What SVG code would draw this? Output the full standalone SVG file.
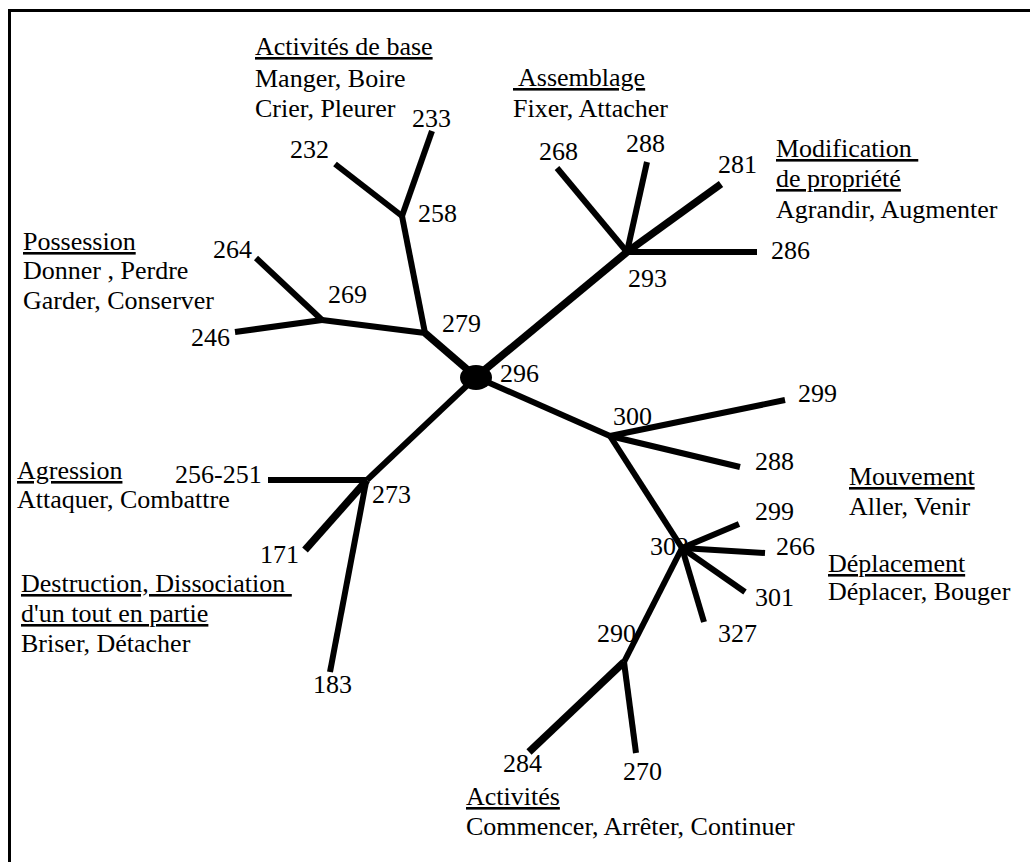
<svg xmlns="http://www.w3.org/2000/svg" width="1030" height="862" viewBox="0 0 1030 862">
<style>
text{font-size:26px;fill:#000}
.u{text-decoration:underline}
.e{stroke:#000;stroke-width:6;fill:none;stroke-linecap:butt}
.t{stroke-width:7.5}
</style>
<rect width="1030" height="862" fill="#fff"/>
<path d="M9.5,862 V10.5 H1030" fill="none" stroke="#000" stroke-width="3"/>
<g id="connectors">
<line class="e" x1="432" y1="131" x2="402" y2="216"/>
<line class="e" x1="335" y1="164" x2="402" y2="216"/>
<line class="e" x1="402" y1="216" x2="425" y2="333"/>
<line class="e" x1="256" y1="258" x2="322" y2="320"/>
<line class="e" x1="235" y1="332" x2="322" y2="320"/>
<line class="e" x1="322" y1="320" x2="425" y2="333"/>
<line class="e t" x1="425" y1="333" x2="476" y2="377"/>
<line class="e" x1="557" y1="168" x2="627" y2="252"/>
<line class="e" x1="647" y1="162" x2="627" y2="252"/>
<line class="e t" x1="721" y1="184" x2="627" y2="252"/>
<line class="e" x1="627" y1="252" x2="757" y2="252"/>
<line class="e t" x1="627" y1="252" x2="476" y2="377"/>
<line class="e" x1="476" y1="377" x2="367" y2="480"/>
<line class="e" x1="268" y1="480" x2="367" y2="480"/>
<line class="e t" x1="367" y1="480" x2="305" y2="550"/>
<line class="e" x1="366" y1="482" x2="330" y2="672"/>
<line class="e" x1="476" y1="377" x2="610" y2="436"/>
<line class="e" x1="610" y1="436" x2="785" y2="400"/>
<line class="e" x1="610" y1="436" x2="740" y2="467"/>
<line class="e" x1="610" y1="436" x2="682" y2="548"/>
<line class="e" x1="682" y1="548" x2="739" y2="524"/>
<line class="e" x1="682" y1="548" x2="765" y2="553"/>
<line class="e" x1="682" y1="548" x2="745" y2="592"/>
<line class="e" x1="682" y1="548" x2="704" y2="622"/>
<line class="e" x1="682" y1="548" x2="624" y2="662"/>
<line class="e t" x1="624" y1="662" x2="529" y2="752"/>
<line class="e" x1="624" y1="662" x2="636" y2="753"/>
</g>
<g font-family="'Liberation Serif', 'Times New Roman', serif">
<g id="n296"><ellipse cx="476" cy="377.5" rx="16" ry="12.5" fill="#000"/><text x="500" y="382">296</text></g>
<g id="n279"><text x="442" y="332">279</text></g>
<g id="n258"><text x="418" y="222">258</text></g>
<g id="n233"><text x="412" y="127">233</text></g>
<g id="n232"><text x="290" y="158">232</text></g>
<g id="n269"><text x="328" y="303">269</text></g>
<g id="n264"><text x="213" y="258">264</text></g>
<g id="n246"><text x="191" y="346">246</text></g>
<g id="n293"><text x="628" y="287">293</text></g>
<g id="n268"><text x="539" y="160">268</text></g>
<g id="n288a"><text x="626" y="152">288</text></g>
<g id="n281"><text x="718" y="173">281</text></g>
<g id="n286"><text x="771" y="259">286</text></g>
<g id="n273"><text x="372" y="503">273</text></g>
<g id="n256"><text x="175" y="483">256-251</text></g>
<g id="n171"><text x="260" y="563">171</text></g>
<g id="n183"><text x="313" y="693">183</text></g>
<g id="n300"><text x="613" y="425">300</text></g>
<g id="n299a"><text x="798" y="402">299</text></g>
<g id="n288b"><text x="755" y="470">288</text></g>
<g id="n302"><text x="650" y="555">302</text></g>
<g id="n299b"><text x="755" y="520">299</text></g>
<g id="n266"><text x="776" y="555">266</text></g>
<g id="n301"><text x="755" y="606">301</text></g>
<g id="n327"><text x="718" y="642">327</text></g>
<g id="n290"><text x="597" y="642">290</text></g>
<g id="n284"><text x="503" y="772">284</text></g>
<g id="n270"><text x="623" y="780">270</text></g>
<g id="g-base"><text x="255" y="55" class="u">Activités de base</text><text x="255" y="87">Manger, Boire</text><text x="255" y="117">Crier, Pleurer</text></g>
<g id="g-assemblage"><text x="513" y="86" class="u" xml:space="preserve"> Assemblage</text><text x="513" y="117">Fixer, Attacher</text></g>
<g id="g-modif"><text x="776" y="157" class="u" xml:space="preserve">Modification </text><text x="776" y="187" class="u">de propriété</text><text x="776" y="218">Agrandir, Augmenter</text></g>
<g id="g-possession"><text x="23" y="250" class="u">Possession</text><text x="23" y="279">Donner , Perdre</text><text x="23" y="309">Garder, Conserver</text></g>
<g id="g-agression"><text x="17" y="479" class="u">Agression</text><text x="17" y="508">Attaquer, Combattre</text></g>
<g id="g-destruction"><text x="21" y="592" class="u" xml:space="preserve">Destruction, Dissociation </text><text x="21" y="622" class="u">d'un tout en partie</text><text x="21" y="652">Briser, Détacher</text></g>
<g id="g-mouvement"><text x="849" y="485" class="u">Mouvement</text><text x="849" y="515">Aller, Venir</text></g>
<g id="g-deplacement"><text x="828" y="572" class="u">Déplacement</text><text x="828" y="600">Déplacer, Bouger</text></g>
<g id="g-activites"><text x="466" y="805" class="u">Activités</text><text x="466" y="835">Commencer, Arrêter, Continuer</text></g>
</g>
</svg>
